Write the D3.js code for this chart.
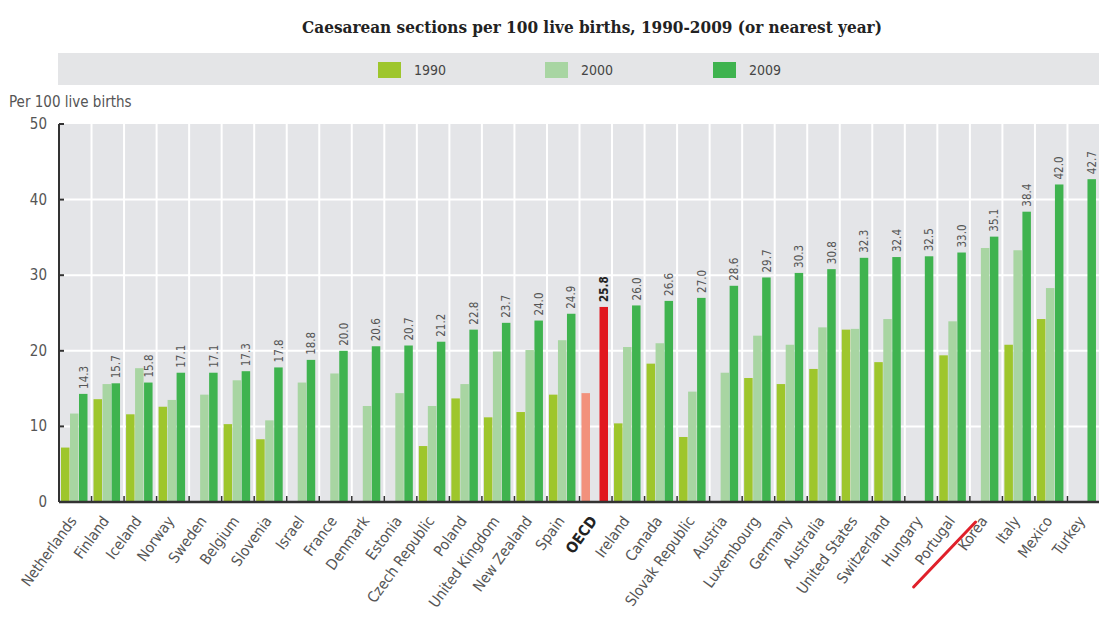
<!DOCTYPE html>
<meta charset="utf-8">
<head>
    <title>Caesarean sections chart</title>
    <style>
        body { margin: 0; background: #fff; }
        text { font-family: "DejaVu Sans Condensed", "Liberation Sans Narrow", sans-serif; }
    </style>
</head>
<body>
<script src="https://d3js.org/d3.v7.min.js"></script>
<script>
    // chart data
    var countries = ["Netherlands", "Finland", "Iceland", "Norway", "Sweden", "Belgium", "Slovenia", "Israel",
        "France", "Denmark", "Estonia", "Czech Republic", "Poland", "United Kingdom", "New Zealand", "Spain",
        "OECD", "Ireland", "Canada", "Slovak Republic", "Austria", "Luxembourg", "Germany", "Australia",
        "United States", "Switzerland", "Hungary", "Portugal", "Korea", "Italy", "Mexico", "Turkey"];
    var v1990 = [7.2, 13.6, 11.6, 12.6, null, 10.3, 8.3, null, null, null, null, 7.4, 13.7, 11.2, 11.9, 14.2,
        14.4, 10.4, 18.3, 8.6, null, 16.4, 15.6, 17.6, 22.8, 18.5, null, 19.4, null, 20.8, 24.2, null];
    var v2000 = [11.7, 15.6, 17.7, 13.5, 14.2, 16.1, 10.8, 15.8, 17.0, 12.7, 14.4, 12.7, 15.6, 19.9, 20.1, 21.4,
        null, 20.5, 21.0, 14.6, 17.1, 22.0, 20.8, 23.1, 22.9, 24.2, null, 23.9, 33.6, 33.3, 28.3, null];
    var v2009 = [14.3, 15.7, 15.8, 17.1, 17.1, 17.3, 17.8, 18.8, 20.0, 20.6, 20.7, 21.2, 22.8, 23.7, 24.0, 24.9,
        25.8, 26.0, 26.6, 27.0, 28.6, 29.7, 30.3, 30.8, 32.3, 32.4, 32.5, 33.0, 35.1, 38.4, 42.0, 42.7];
    var years = ["1990", "2000", "2009"];
    var yTicks = [0, 10, 20, 30, 40, 50];

    var colors = { "1990": "#9ec62c", "2000": "#a8d5a2", "2009": "#3fb34f" };
    var oecdColors = { "1990": "#f2917c", "2000": "#f2917c", "2009": "#e1181f" };

    var width = 1099, height = 617;
    var svg = d3.select("body").append("svg")
        .attr("width", width)
        .attr("height", height);

    // scales
    var x = d3.scaleBand().domain(countries).range([59, 1100]);
    var xs = d3.scaleBand().domain(years).range([2, 29]);
    var y = d3.scaleLinear().domain([0, 50]).range([502, 124]);

    // title
    svg.append("text")
        .attr("x", 592)
        .attr("y", 33)
        .attr("text-anchor", "middle")
        .style("font-family", "'DejaVu Serif Condensed', 'Liberation Serif', serif")
        .style("font-weight", "bold")
        .style("font-size", "17px")
        .style("fill", "#222")
        .text("Caesarean sections per 100 live births, 1990-2009 (or nearest year)");

    // legend band
    svg.append("rect")
        .attr("x", 58).attr("y", 53)
        .attr("width", width - 58).attr("height", 32)
        .style("fill", "#e4e5e7");

    var legendX = { "1990": 378, "2000": 545, "2009": 713 };
    var legend = svg.selectAll(".legend")
        .data(years)
        .enter()
        .append("g")
        .attr("class", "legend")
        .attr("transform", function (d) { return "translate(" + legendX[d] + ",62)"; });
    legend.append("rect")
        .attr("width", 23).attr("height", 16)
        .style("fill", function (d) { return colors[d]; });
    legend.append("text")
        .attr("x", 36).attr("y", 13)
        .style("font-size", "14px")
        .style("fill", "#444")
        .text(function (d) { return d; });

    // plot background
    svg.append("rect")
        .attr("x", x.range()[0]).attr("y", y(50))
        .attr("width", x.range()[1] - x.range()[0])
        .attr("height", y(0) - y(50))
        .style("fill", "#e4e5e8");

    // grid lines
    svg.append("g")
        .selectAll("line")
        .data(yTicks.slice(1, -1))
        .enter()
        .append("line")
        .attr("x1", x.range()[0]).attr("x2", x.range()[1])
        .attr("y1", function (d) { return y(d); })
        .attr("y2", function (d) { return y(d); })
        .style("stroke", "#fff")
        .style("stroke-width", 2);

    svg.append("g")
        .selectAll("line")
        .data(countries.slice(1))
        .enter()
        .append("line")
        .attr("x1", function (d) { return x(d); })
        .attr("x2", function (d) { return x(d); })
        .attr("y1", y(50)).attr("y2", y(0))
        .style("stroke", "#fff")
        .style("stroke-width", 2);

    // bars
    var rows = [];
    countries.forEach(function (c, i) {
        var vals = { "1990": v1990[i], "2000": v2000[i], "2009": v2009[i] };
        years.forEach(function (yr) {
            if (vals[yr] !== null) rows.push({ country: c, year: yr, value: vals[yr] });
        });
    });

    svg.append("g")
        .selectAll("rect")
        .data(rows)
        .enter()
        .append("rect")
        .attr("x", function (d) { return x(d.country) + xs(d.year); })
        .attr("width", xs.bandwidth() - 0.5)
        .attr("y", function (d) { return y(d.value); })
        .attr("height", function (d) { return y(0) - y(d.value); })
        .style("fill", function (d) {
            return d.country === "OECD" ? oecdColors[d.year] : colors[d.year];
        });

    // value labels for 2009
    svg.append("g")
        .selectAll("text")
        .data(countries)
        .enter()
        .append("text")
        .attr("transform", function (d, i) {
            var cx = x(d) + xs("2009") + xs.bandwidth() / 2 + 4;
            return "translate(" + cx + "," + (y(v2009[i]) - 5) + ") rotate(-90)";
        })
        .style("font-size", "11.5px")
        .style("font-weight", function (d) { return d === "OECD" ? "bold" : "normal"; })
        .style("fill", function (d) { return d === "OECD" ? "#222" : "#555"; })
        .text(function (d, i) { return v2009[i].toFixed(1); });

    // axes
    svg.append("line")
        .attr("x1", x.range()[0]).attr("x2", x.range()[0])
        .attr("y1", y(50)).attr("y2", y(0))
        .style("stroke", "#333").style("stroke-width", 2);
    svg.append("line")
        .attr("x1", x.range()[0]).attr("x2", x.range()[1])
        .attr("y1", y(0)).attr("y2", y(0))
        .style("stroke", "#333").style("stroke-width", 2.5);

    svg.append("g")
        .selectAll("line")
        .data(yTicks)
        .enter()
        .append("line")
        .attr("x1", x.range()[0]).attr("x2", x.range()[0] + 5)
        .attr("y1", function (d) { return y(d); })
        .attr("y2", function (d) { return y(d); })
        .style("stroke", "#333").style("stroke-width", 2);

    svg.append("g")
        .selectAll("line")
        .data(countries.slice(1))
        .enter()
        .append("line")
        .attr("x1", function (d) { return x(d); })
        .attr("x2", function (d) { return x(d); })
        .attr("y1", y(0)).attr("y2", y(0) - 6)
        .style("stroke", "#333").style("stroke-width", 1.5);

    svg.append("g")
        .selectAll("text")
        .data(yTicks)
        .enter()
        .append("text")
        .attr("x", 47)
        .attr("y", function (d) { return y(d) + 5; })
        .attr("text-anchor", "end")
        .style("font-size", "15px")
        .style("fill", "#555")
        .text(function (d) { return d; });

    svg.append("text")
        .attr("x", 9).attr("y", 107)
        .style("font-size", "15px")
        .style("fill", "#555")
        .text("Per 100 live births");

    // category labels
    svg.append("g")
        .selectAll("text")
        .data(countries)
        .enter()
        .append("text")
        .attr("transform", function (d) {
            return "translate(" + (x(d) + x.bandwidth() / 2 + 2) + "," + 521 + ") rotate(-54)";
        })
        .attr("text-anchor", "end")
        .style("font-size", "15px")
        .style("font-weight", function (d) { return d === "OECD" ? "bold" : "normal"; })
        .style("fill", function (d) { return d === "OECD" ? "#222" : "#555"; })
        .text(function (d) { return d; });

    // red stroke through the Portugal label
    var px = x("Portugal") + x.bandwidth() / 2;
    svg.append("line")
        .attr("x1", px - 40).attr("y1", 587)
        .attr("x2", px + 22).attr("y2", 522)
        .style("stroke", "#e0202a")
        .style("stroke-width", 3)
        .style("stroke-linecap", "round");
</script>
</body>
</html>
